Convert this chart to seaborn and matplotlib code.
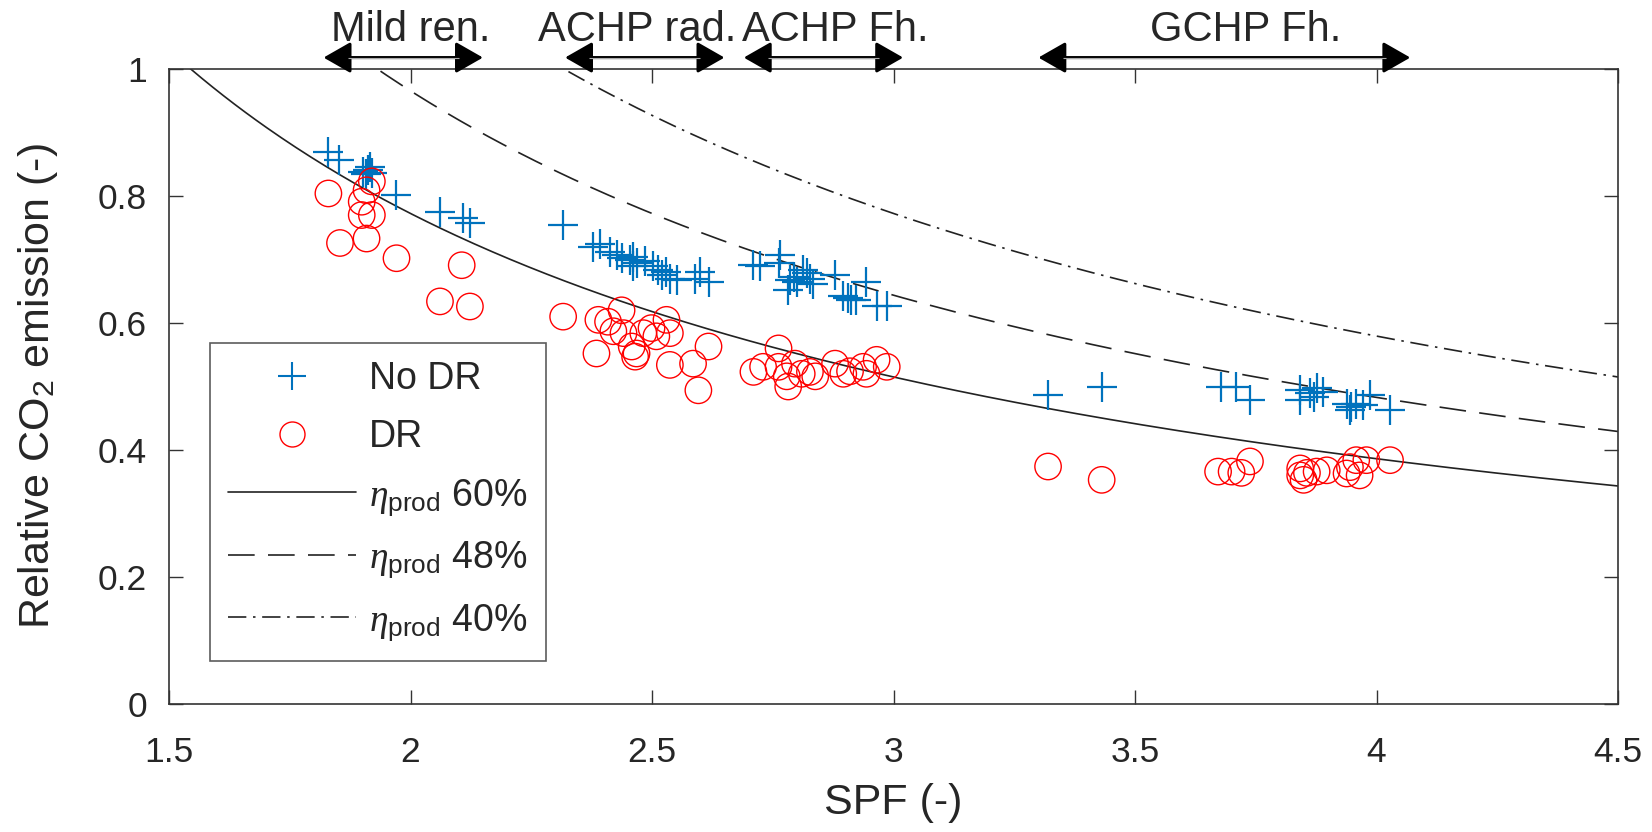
import numpy as np
import pandas as pd
import matplotlib
matplotlib.use("Agg")
import matplotlib.pyplot as plt
import seaborn as sns
from matplotlib.lines import Line2D

# ---------------- data ----------------
spf_nodr = [1.830, 1.853, 1.902, 1.913, 1.920, 1.916, 1.908, 1.970, 2.061, 2.109, 2.123,
            2.316, 2.378, 2.392, 2.413, 2.427, 2.437, 2.454, 2.461, 2.461, 2.468, 2.486, 2.503,
            2.513, 2.520, 2.530, 2.537, 2.551, 2.589, 2.599, 2.617,
            2.710, 2.724, 2.765, 2.762, 2.786, 2.793, 2.813, 2.820, 2.827, 2.834, 2.782, 2.800,
            2.879, 2.896, 2.906, 2.913, 2.923, 2.944, 2.965, 2.986,
            3.320, 3.431, 3.679, 3.710, 3.738, 3.842, 3.863, 3.870, 3.877, 3.890, 3.842,
            3.938, 3.948, 3.958, 3.972, 3.987, 4.028, 3.945]
co2_nodr = [0.870, 0.857, 0.838, 0.841, 0.836, 0.846, 0.835, 0.802, 0.775, 0.765, 0.757,
            0.754, 0.720, 0.725, 0.712, 0.707, 0.702, 0.699, 0.704, 0.689, 0.694, 0.697, 0.689,
            0.683, 0.676, 0.681, 0.670, 0.668, 0.670, 0.681, 0.665,
            0.691, 0.689, 0.707, 0.694, 0.668, 0.673, 0.683, 0.678, 0.670, 0.662, 0.652, 0.665,
            0.676, 0.642, 0.639, 0.637, 0.636, 0.665, 0.626, 0.626,
            0.487, 0.500, 0.500, 0.500, 0.479, 0.494, 0.489, 0.484, 0.497, 0.492, 0.478,
            0.473, 0.468, 0.473, 0.471, 0.487, 0.463, 0.463]

spf_dr = [1.830, 1.854, 1.909, 1.971, 1.920, 1.909, 1.899, 1.899, 1.920, 2.106, 2.061, 2.123,
          2.316, 2.385, 2.389, 2.409, 2.437, 2.420, 2.441, 2.458, 2.468, 2.465, 2.482, 2.499,
          2.509, 2.530, 2.537, 2.537, 2.585, 2.617, 2.596,
          2.710, 2.730, 2.762, 2.762, 2.779, 2.782, 2.796, 2.810, 2.827, 2.838, 2.879, 2.896,
          2.910, 2.937, 2.965, 2.986, 2.944,
          3.320, 3.431, 3.672, 3.700, 3.720, 3.738, 3.842, 3.842, 3.849, 3.856, 3.876, 3.897,
          3.938, 3.945, 3.958, 3.979, 3.965, 4.028]
co2_dr = [0.804, 0.726, 0.733, 0.702, 0.823, 0.809, 0.791, 0.770, 0.770, 0.691, 0.634, 0.626,
          0.610, 0.552, 0.605, 0.602, 0.620, 0.587, 0.584, 0.563, 0.552, 0.547, 0.584, 0.592,
          0.579, 0.605, 0.584, 0.534, 0.536, 0.563, 0.494,
          0.523, 0.531, 0.560, 0.531, 0.516, 0.500, 0.536, 0.520, 0.523, 0.516, 0.536, 0.520,
          0.524, 0.531, 0.542, 0.531, 0.520,
          0.374, 0.353, 0.366, 0.366, 0.364, 0.382, 0.371, 0.360, 0.353, 0.364, 0.366, 0.368,
          0.363, 0.373, 0.384, 0.384, 0.360, 0.384]

# reference curves: relative emission = ref_factor / (eta_prod * SPF)
eta_prod = [0.60, 0.48, 0.40]
eta_labels = ["60%", "48%", "40%"]
ref_factor = 0.927

# range annotations on top
range_labels = ["Mild ren.", "ACHP rad.", "ACHP Fh.", "GCHP Fh."]
range_start = [1.82, 2.32, 2.69, 3.30]
range_end = [2.15, 2.65, 3.02, 4.07]
label_pos = [2.0, 2.47, 2.88, 3.73]

x_ticks = [1.5, 2, 2.5, 3, 3.5, 4, 4.5]
y_ticks = [0, 0.2, 0.4, 0.6, 0.8, 1]

# ---------------- style ----------------
sns.set_theme(style="white")
plt.rcParams["font.family"] = ["Liberation Sans", "DejaVu Sans"]
plt.rcParams["mathtext.fontset"] = "custom"
plt.rcParams["mathtext.rm"] = "Liberation Sans"
plt.rcParams["mathtext.it"] = "Liberation Serif:italic"
plt.rcParams["mathtext.bf"] = "Liberation Sans:bold"

FS_TICK = 25.5
FS_LAB = 31
FS_TOP = 30
FS_LEG = 27
BLUE = "#0072BD"
RED = "#FF0000"

fig = plt.figure(figsize=(16.52, 8.32), dpi=100)
ax = fig.add_axes([169 / 1652, 1 - 704 / 832, (1618 - 169) / 1652, (704 - 69) / 832])

df_nodr = pd.DataFrame({"SPF": spf_nodr, "CO2": co2_nodr})
df_dr = pd.DataFrame({"SPF": spf_dr, "CO2": co2_dr})

# curves
x_curve = np.linspace(1.5, 4.5, 400)
styles = ["-", (0, (16, 8)), (0, (11, 4, 1.5, 4))]
line_handles = []
for eta, lab, ls in zip(eta_prod, eta_labels, styles):
    dfc = pd.DataFrame({"SPF": x_curve, "CO2": ref_factor / (eta * x_curve)})
    sns.lineplot(data=dfc, x="SPF", y="CO2", ax=ax, color="#222222", lw=1.2,
                 linestyle=ls, zorder=2)
    line_handles.append(Line2D([], [], color="#222222", lw=1.2, linestyle=ls,
                               label=r"$\eta_{\mathrm{prod}}$ " + lab))

sns.scatterplot(data=df_nodr, x="SPF", y="CO2", ax=ax, marker="+", s=22 ** 2,
                color=BLUE, linewidth=1.6, zorder=3)
sns.scatterplot(data=df_dr, x="SPF", y="CO2", ax=ax, marker="o", s=19 ** 2,
                color=RED, facecolors="none", edgecolor=RED, linewidth=1.0, zorder=3)

ax.set_xlim(1.5, 4.5)
ax.set_ylim(0, 1)
ax.set_xticks(x_ticks)
ax.set_xticklabels([f"{v:g}" for v in x_ticks])
ax.set_yticks(y_ticks)
ax.set_yticklabels([f"{v:g}" for v in y_ticks])
ax.tick_params(axis="both", direction="in", length=10, width=1.0, color="#333333",
               labelsize=FS_TICK, top=True, right=True, bottom=True, left=True)
ax.tick_params(axis="x", pad=23)
ax.tick_params(axis="y", pad=16)
for sp in ax.spines.values():
    sp.set_visible(True)
    sp.set_color("#333333")
    sp.set_linewidth(1.2)

ax.set_xlabel("SPF (-)", fontsize=FS_LAB, labelpad=10)
ax.set_ylabel(r"Relative CO$_2$ emission (-)", fontsize=FS_LAB, labelpad=27)

# range arrows above the plot
y_arrow = 1.018
for lab, x0, x1, xt in zip(range_labels, range_start, range_end, label_pos):
    ax.annotate("", xy=(x1, y_arrow), xytext=(x0, y_arrow), xycoords="data",
                arrowprops=dict(arrowstyle="<|-|>,head_length=1.4,head_width=0.8",
                                color="black", lw=2.2, shrinkA=0, shrinkB=0),
                annotation_clip=False, zorder=5)
    ax.plot([x0 + 0.05, x1 - 0.05], [y_arrow, y_arrow], color="#aaaaaa", lw=0.8,
            clip_on=False, zorder=6, solid_capstyle="butt")
    ax.text(xt, 1.062, lab, ha="center", va="center", fontsize=FS_TOP, clip_on=False)

# legend
handles = [
    Line2D([], [], marker="+", ls="none", color=BLUE, ms=20, mew=1.5, label="No DR"),
    Line2D([], [], marker="o", ls="none", mfc="none", mec=RED, ms=18, mew=1.0, label="DR"),
] + line_handles
leg = ax.legend(handles=handles, loc="lower left", bbox_to_anchor=(0.028, 0.067),
                borderaxespad=0, fontsize=FS_LEG, frameon=True, fancybox=False,
                handlelength=3.4, handletextpad=0.35, borderpad=0.5, labelspacing=0.58)
leg.get_frame().set_edgecolor("#333333")
leg.get_frame().set_linewidth(1.2)

fig.savefig("out.png", dpi=100, facecolor="white")
